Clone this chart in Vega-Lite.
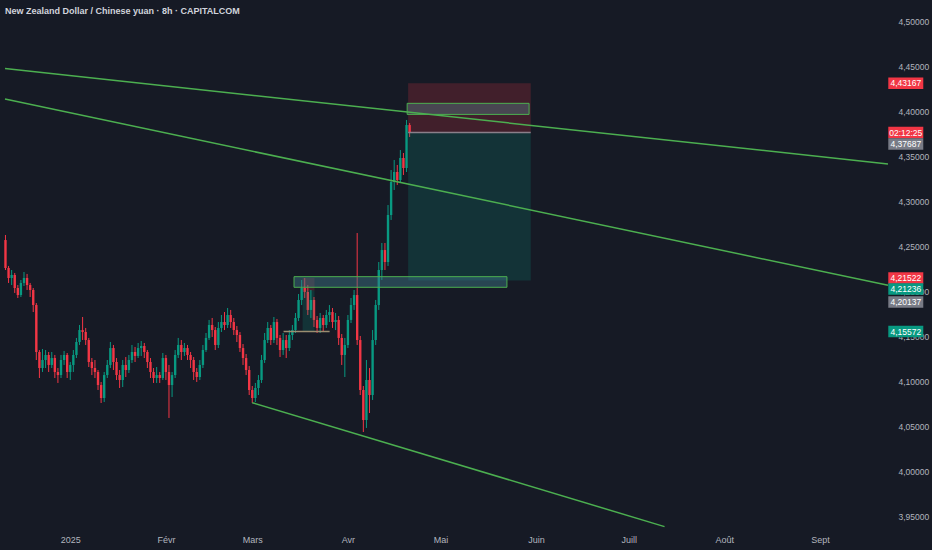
{
  "$schema": "https://vega.github.io/schema/vega-lite/v6.json",
  "width": 893,
  "height": 530,
  "autosize": {"type": "none"},
  "padding": {"left": 0, "top": 0, "right": 39, "bottom": 20},
  "background": "#161a25",
  "config": {
    "view": {"stroke": null},
    "font": "Liberation Sans"
  },
  "title": {
    "text": "New Zealand Dollar / Chinese yuan · 8h · CAPITALCOM",
    "anchor": "start",
    "frame": "group",
    "offset": -16,
    "dx": 5,
    "fontSize": 9,
    "fontWeight": "bold",
    "color": "#d1d4dc",
    "font": "Liberation Sans"
  },
  "datasets": {
    "candles": [
      {"t":"2024-12-11","o":4.2574,"h":4.2630,"l":4.2241,"c":4.2263},
      {"t":"2024-12-12","o":4.2263,"h":4.2286,"l":4.2097,"c":4.2152},
      {"t":"2024-12-13","o":4.2152,"h":4.2241,"l":4.2074,"c":4.2186},
      {"t":"2024-12-14","o":4.2186,"h":4.2208,"l":4.1986,"c":4.2041},
      {"t":"2024-12-15","o":4.2041,"h":4.2074,"l":4.1930,"c":4.1963},
      {"t":"2024-12-16","o":4.1963,"h":4.2130,"l":4.1941,"c":4.2097},
      {"t":"2024-12-17","o":4.2097,"h":4.2219,"l":4.2063,"c":4.2152},
      {"t":"2024-12-18","o":4.2152,"h":4.2197,"l":4.2019,"c":4.2074},
      {"t":"2024-12-19","o":4.2074,"h":4.2097,"l":4.1941,"c":4.2019},
      {"t":"2024-12-20","o":4.2019,"h":4.2041,"l":4.1774,"c":4.1852},
      {"t":"2024-12-21","o":4.1852,"h":4.1874,"l":4.1241,"c":4.1330},
      {"t":"2024-12-22","o":4.1330,"h":4.1352,"l":4.1041,"c":4.1152},
      {"t":"2024-12-23","o":4.1152,"h":4.1363,"l":4.1108,"c":4.1241},
      {"t":"2024-12-24","o":4.1241,"h":4.1352,"l":4.1152,"c":4.1297},
      {"t":"2024-12-25","o":4.1297,"h":4.1330,"l":4.1108,"c":4.1186},
      {"t":"2024-12-26","o":4.1186,"h":4.1330,"l":4.1152,"c":4.1263},
      {"t":"2024-12-27","o":4.1263,"h":4.1297,"l":4.1041,"c":4.1108},
      {"t":"2024-12-28","o":4.1108,"h":4.1152,"l":4.0986,"c":4.1074},
      {"t":"2024-12-29","o":4.1074,"h":4.1297,"l":4.1041,"c":4.1241},
      {"t":"2024-12-30","o":4.1241,"h":4.1341,"l":4.1186,"c":4.1297},
      {"t":"2024-12-31","o":4.1297,"h":4.1319,"l":4.1041,"c":4.1108},
      {"t":"2025-01-01","o":4.1108,"h":4.1219,"l":4.1019,"c":4.1186},
      {"t":"2025-01-02","o":4.1186,"h":4.1352,"l":4.1108,"c":4.1297},
      {"t":"2025-01-03","o":4.1297,"h":4.1486,"l":4.1263,"c":4.1441},
      {"t":"2025-01-04","o":4.1441,"h":4.1630,"l":4.1408,"c":4.1574},
      {"t":"2025-01-05","o":4.1574,"h":4.1719,"l":4.1463,"c":4.1552},
      {"t":"2025-01-06","o":4.1552,"h":4.1597,"l":4.1408,"c":4.1463},
      {"t":"2025-01-07","o":4.1463,"h":4.1486,"l":4.1163,"c":4.1219},
      {"t":"2025-01-08","o":4.1219,"h":4.1263,"l":4.1074,"c":4.1152},
      {"t":"2025-01-09","o":4.1152,"h":4.1241,"l":4.1041,"c":4.1108},
      {"t":"2025-01-10","o":4.1108,"h":4.1130,"l":4.0908,"c":4.0963},
      {"t":"2025-01-11","o":4.0963,"h":4.0997,"l":4.0763,"c":4.0819},
      {"t":"2025-01-12","o":4.0819,"h":4.1108,"l":4.0774,"c":4.1074},
      {"t":"2025-01-13","o":4.1074,"h":4.1241,"l":4.1041,"c":4.1186},
      {"t":"2025-01-14","o":4.1186,"h":4.1441,"l":4.1152,"c":4.1374},
      {"t":"2025-01-15","o":4.1374,"h":4.1408,"l":4.1130,"c":4.1219},
      {"t":"2025-01-16","o":4.1219,"h":4.1263,"l":4.1019,"c":4.1074},
      {"t":"2025-01-17","o":4.1074,"h":4.1130,"l":4.0930,"c":4.1019},
      {"t":"2025-01-18","o":4.1019,"h":4.1241,"l":4.0941,"c":4.1186},
      {"t":"2025-01-19","o":4.1186,"h":4.1274,"l":4.1052,"c":4.1130},
      {"t":"2025-01-20","o":4.1130,"h":4.1297,"l":4.1097,"c":4.1241},
      {"t":"2025-01-21","o":4.1241,"h":4.1408,"l":4.1208,"c":4.1330},
      {"t":"2025-01-22","o":4.1330,"h":4.1386,"l":4.1219,"c":4.1286},
      {"t":"2025-01-23","o":4.1286,"h":4.1430,"l":4.1263,"c":4.1374},
      {"t":"2025-01-24","o":4.1374,"h":4.1452,"l":4.1286,"c":4.1397},
      {"t":"2025-01-25","o":4.1397,"h":4.1430,"l":4.1263,"c":4.1330},
      {"t":"2025-01-26","o":4.1330,"h":4.1352,"l":4.1152,"c":4.1219},
      {"t":"2025-01-27","o":4.1219,"h":4.1263,"l":4.1041,"c":4.1108},
      {"t":"2025-01-28","o":4.1108,"h":4.1152,"l":4.0986,"c":4.1041},
      {"t":"2025-01-29","o":4.1041,"h":4.1163,"l":4.0986,"c":4.1074},
      {"t":"2025-01-30","o":4.1074,"h":4.1108,"l":4.0986,"c":4.1041},
      {"t":"2025-01-31","o":4.1041,"h":4.1319,"l":4.1019,"c":4.1263},
      {"t":"2025-02-01","o":4.1263,"h":4.1297,"l":4.1019,"c":4.1108},
      {"t":"2025-02-02","o":4.1108,"h":4.1186,"l":4.0597,"c":4.0963},
      {"t":"2025-02-03","o":4.0963,"h":4.1108,"l":4.0830,"c":4.1074},
      {"t":"2025-02-04","o":4.1074,"h":4.1352,"l":4.1041,"c":4.1297},
      {"t":"2025-02-05","o":4.1297,"h":4.1486,"l":4.1263,"c":4.1408},
      {"t":"2025-02-06","o":4.1408,"h":4.1463,"l":4.1241,"c":4.1330},
      {"t":"2025-02-07","o":4.1330,"h":4.1430,"l":4.1286,"c":4.1374},
      {"t":"2025-02-08","o":4.1374,"h":4.1408,"l":4.1241,"c":4.1297},
      {"t":"2025-02-09","o":4.1297,"h":4.1330,"l":4.1152,"c":4.1241},
      {"t":"2025-02-10","o":4.1241,"h":4.1274,"l":4.1019,"c":4.1108},
      {"t":"2025-02-11","o":4.1108,"h":4.1152,"l":4.0997,"c":4.1052},
      {"t":"2025-02-12","o":4.1052,"h":4.1241,"l":4.1019,"c":4.1186},
      {"t":"2025-02-13","o":4.1186,"h":4.1408,"l":4.1152,"c":4.1352},
      {"t":"2025-02-14","o":4.1352,"h":4.1541,"l":4.1330,"c":4.1486},
      {"t":"2025-02-15","o":4.1486,"h":4.1686,"l":4.1463,"c":4.1630},
      {"t":"2025-02-16","o":4.1630,"h":4.1708,"l":4.1497,"c":4.1574},
      {"t":"2025-02-17","o":4.1574,"h":4.1608,"l":4.1352,"c":4.1408},
      {"t":"2025-02-18","o":4.1408,"h":4.1663,"l":4.1374,"c":4.1597},
      {"t":"2025-02-19","o":4.1597,"h":4.1741,"l":4.1552,"c":4.1663},
      {"t":"2025-02-20","o":4.1663,"h":4.1774,"l":4.1574,"c":4.1630},
      {"t":"2025-02-21","o":4.1630,"h":4.1819,"l":4.1597,"c":4.1741},
      {"t":"2025-02-22","o":4.1741,"h":4.1797,"l":4.1597,"c":4.1663},
      {"t":"2025-02-23","o":4.1663,"h":4.1708,"l":4.1519,"c":4.1574},
      {"t":"2025-02-24","o":4.1574,"h":4.1619,"l":4.1441,"c":4.1519},
      {"t":"2025-02-25","o":4.1519,"h":4.1552,"l":4.1330,"c":4.1374},
      {"t":"2025-02-26","o":4.1374,"h":4.1419,"l":4.1186,"c":4.1263},
      {"t":"2025-02-27","o":4.1263,"h":4.1308,"l":4.1074,"c":4.1130},
      {"t":"2025-02-28","o":4.1130,"h":4.1174,"l":4.0852,"c":4.0908},
      {"t":"2025-03-01","o":4.0908,"h":4.0952,"l":4.0763,"c":4.0819},
      {"t":"2025-03-02","o":4.0819,"h":4.0986,"l":4.0774,"c":4.0930},
      {"t":"2025-03-03","o":4.0930,"h":4.1074,"l":4.0852,"c":4.1019},
      {"t":"2025-03-04","o":4.1019,"h":4.1297,"l":4.0986,"c":4.1241},
      {"t":"2025-03-05","o":4.1241,"h":4.1541,"l":4.1208,"c":4.1463},
      {"t":"2025-03-06","o":4.1463,"h":4.1663,"l":4.1430,"c":4.1597},
      {"t":"2025-03-07","o":4.1597,"h":4.1630,"l":4.1408,"c":4.1463},
      {"t":"2025-03-08","o":4.1463,"h":4.1719,"l":4.1430,"c":4.1663},
      {"t":"2025-03-09","o":4.1663,"h":4.1697,"l":4.1408,"c":4.1486},
      {"t":"2025-03-10","o":4.1486,"h":4.1519,"l":4.1274,"c":4.1352},
      {"t":"2025-03-11","o":4.1352,"h":4.1541,"l":4.1297,"c":4.1463},
      {"t":"2025-03-12","o":4.1463,"h":4.1519,"l":4.1263,"c":4.1374},
      {"t":"2025-03-13","o":4.1374,"h":4.1574,"l":4.1341,"c":4.1519},
      {"t":"2025-03-14","o":4.1519,"h":4.1630,"l":4.1463,"c":4.1574},
      {"t":"2025-03-15","o":4.1574,"h":4.1763,"l":4.1541,"c":4.1708},
      {"t":"2025-03-16","o":4.1708,"h":4.1974,"l":4.1674,"c":4.1908},
      {"t":"2025-03-17","o":4.1908,"h":4.2130,"l":4.1852,"c":4.2041},
      {"t":"2025-03-18","o":4.2041,"h":4.2152,"l":4.1930,"c":4.1997},
      {"t":"2025-03-19","o":4.1997,"h":4.2074,"l":4.1741,"c":4.1797},
      {"t":"2025-03-20","o":4.1797,"h":4.2019,"l":4.1708,"c":4.1908},
      {"t":"2025-03-21","o":4.1908,"h":4.1941,"l":4.1608,"c":4.1686},
      {"t":"2025-03-22","o":4.1686,"h":4.1730,"l":4.1541,"c":4.1597},
      {"t":"2025-03-23","o":4.1597,"h":4.1763,"l":4.1541,"c":4.1708},
      {"t":"2025-03-24","o":4.1708,"h":4.1741,"l":4.1552,"c":4.1630},
      {"t":"2025-03-25","o":4.1630,"h":4.1797,"l":4.1597,"c":4.1741},
      {"t":"2025-03-26","o":4.1741,"h":4.1852,"l":4.1663,"c":4.1774},
      {"t":"2025-03-27","o":4.1774,"h":4.1819,"l":4.1597,"c":4.1663},
      {"t":"2025-03-28","o":4.1663,"h":4.1763,"l":4.1574,"c":4.1686},
      {"t":"2025-03-29","o":4.1686,"h":4.1730,"l":4.1408,"c":4.1486},
      {"t":"2025-03-30","o":4.1486,"h":4.1530,"l":4.1186,"c":4.1297},
      {"t":"2025-03-31","o":4.1297,"h":4.1486,"l":4.1052,"c":4.1408},
      {"t":"2025-04-01","o":4.1408,"h":4.1741,"l":4.1374,"c":4.1686},
      {"t":"2025-04-02","o":4.1686,"h":4.1930,"l":4.1652,"c":4.1852},
      {"t":"2025-04-03","o":4.1852,"h":4.2019,"l":4.1797,"c":4.1963},
      {"t":"2025-04-04","o":4.1963,"h":4.2652,"l":4.1408,"c":4.1463},
      {"t":"2025-04-05","o":4.1463,"h":4.1508,"l":4.0852,"c":4.0908},
      {"t":"2025-04-06","o":4.0908,"h":4.0952,"l":4.0441,"c":4.0574},
      {"t":"2025-04-07","o":4.0574,"h":4.1241,"l":4.0486,"c":4.1019},
      {"t":"2025-04-08","o":4.1019,"h":4.1152,"l":4.0652,"c":4.0852},
      {"t":"2025-04-09","o":4.0852,"h":4.1574,"l":4.0797,"c":4.1463},
      {"t":"2025-04-10","o":4.1463,"h":4.1908,"l":4.1408,"c":4.1852},
      {"t":"2025-04-11","o":4.1852,"h":4.2330,"l":4.1797,"c":4.2241},
      {"t":"2025-04-12","o":4.2241,"h":4.2541,"l":4.2130,"c":4.2463},
      {"t":"2025-04-13","o":4.2463,"h":4.2541,"l":4.2241,"c":4.2330},
      {"t":"2025-04-14","o":4.2330,"h":4.2963,"l":4.2286,"c":4.2852},
      {"t":"2025-04-15","o":4.2852,"h":4.3352,"l":4.2797,"c":4.3219},
      {"t":"2025-04-16","o":4.3219,"h":4.3463,"l":4.3130,"c":4.3330},
      {"t":"2025-04-17","o":4.3330,"h":4.3408,"l":4.3186,"c":4.3241},
      {"t":"2025-04-18","o":4.3241,"h":4.3574,"l":4.3208,"c":4.3486},
      {"t":"2025-04-19","o":4.3486,"h":4.3541,"l":4.3297,"c":4.3374},
      {"t":"2025-04-20","o":4.3374,"h":4.3908,"l":4.3330,"c":4.3852},
      {"t":"2025-04-21","o":4.3852,"h":4.3874,"l":4.3719,"c":4.3769}
    ],
    "zones": [
      {"t1":"2025-04-20T12:29:00Z","t2":"2025-05-30T06:14:00Z","p1":4.43167,"p2":4.37687,"kind":"stop"},
      {"t1":"2025-04-20T12:29:00Z","t2":"2025-05-30T06:14:00Z","p1":4.37687,"p2":4.21236,"kind":"target"},
      {"t1":"2025-03-17T07:40:00Z","t2":"2025-03-21T04:00:00Z","p1":4.21522,"p2":4.20137,"kind":"stop"},
      {"t1":"2025-03-17T07:40:00Z","t2":"2025-03-21T04:00:00Z","p1":4.20137,"p2":4.15572,"kind":"target"},
      {"t1":"2025-04-20T04:48:00Z","t2":"2025-05-29T17:14:00Z","p1":4.4093,"p2":4.3970,"kind":"level"},
      {"t1":"2025-03-14T12:46:00Z","t2":"2025-05-22T13:00:00Z","p1":4.2167,"p2":4.2049,"kind":"box"}
    ],
    "lines": [
      {"t1":"2024-12-10T20:18:00Z","p1":4.4480,"t2":"2025-09-23T01:32:00Z","p2":4.3419,"kind":"trend"},
      {"t1":"2024-12-10T20:18:00Z","p1":4.4140,"t2":"2025-09-23T01:32:00Z","p2":4.2071,"kind":"trend"},
      {"t1":"2025-02-28T23:18:00Z","p1":4.0767,"t2":"2025-07-12T15:07:00Z","p2":3.9390,"kind":"trend"},
      {"t1":"2025-04-20T12:29:00Z","p1":4.37687,"t2":"2025-05-30T06:14:00Z","p2":4.37687,"kind":"entry"},
      {"t1":"2025-03-11T03:20:00Z","p1":4.15572,"t2":"2025-03-26T01:41:00Z","p2":4.15572,"kind":"target"}
    ],
    "labels": [
      {"p":4.43167,"label":"4,43167","kind":"stop"},
      {"p":4.37687,"label":"02:12:25","kind":"timer"},
      {"p":4.37687,"label":"4,37687","kind":"entry"},
      {"p":4.21522,"label":"4,21522","kind":"stop"},
      {"p":4.21236,"label":"4,21236","kind":"target"},
      {"p":4.20137,"label":"4,20137","kind":"entry"},
      {"p":4.15572,"label":"4,15572","kind":"target"}
    ]
  },
  "layer": [
    {
      "data": {"name": "candles"},
      "mark": {"type": "rule", "strokeWidth": 1, "clip": true},
      "encoding": {
        "x": {
          "field": "t", "type": "temporal", "title": null,
          "scale": {"type": "utc", "domain": [{"year":2024,"month":12,"date":10,"hours":20,"minutes":18,"utc":true},{"year":2025,"month":9,"date":23,"hours":1,"minutes":32,"utc":true}]},
          "axis": {
            "orient": "bottom", "domain": false, "ticks": false, "grid": false,
            "labelPadding": 5, "labelColor": "#b2b5be", "labelFontSize": 9,
            "labelFont": "Liberation Sans",
            "labelAlign": "center", "labelBaseline": "top", "labelFlush": false, "labelOverlap": false,
            "values": [
              {"year":2025,"month":1,"date":1,"utc":true},
              {"year":2025,"month":2,"date":1,"utc":true},
              {"year":2025,"month":3,"date":1,"utc":true},
              {"year":2025,"month":4,"date":1,"utc":true},
              {"year":2025,"month":5,"date":1,"utc":true},
              {"year":2025,"month":6,"date":1,"utc":true},
              {"year":2025,"month":7,"date":1,"utc":true},
              {"year":2025,"month":8,"date":1,"utc":true},
              {"year":2025,"month":9,"date":1,"utc":true}
            ],
            "labelExpr": "['2025','Févr','Mars','Avr','Mai','Juin','Juill','Août','Sept'][utcmonth(datum.value)]"
          }
        },
        "y": {
          "field": "l", "type": "quantitative", "title": null,
          "scale": {"domain": [3.93522, 4.52411], "zero": false, "nice": false},
          "axis": {
            "orient": "right", "domain": false, "ticks": false, "grid": false,
            "labelPadding": 5, "labelColor": "#b2b5be", "labelFontSize": 8.5,
            "labelFont": "Liberation Sans",
            "labelAlign": "left", "labelBaseline": "middle", "labelOverlap": false, "labelBound": false,
            "values": [3.95, 4.0, 4.05, 4.1, 4.15, 4.2, 4.25, 4.3, 4.35, 4.4, 4.45, 4.5],
            "labelExpr": "replace(format(datum.value, '.5f'), '.', ',')"
          }
        },
        "y2": {"field": "h"},
        "color": {"condition": {"test": "datum.c >= datum.o", "value": "#089981"}, "value": "#f23645"}
      }
    },
    {
      "data": {"name": "candles"},
      "mark": {"type": "bar", "size": 2.4, "clip": true},
      "encoding": {
        "x": {"field": "t", "type": "temporal", "title": null},
        "y": {"field": "o", "type": "quantitative", "title": null},
        "y2": {"field": "c"},
        "color": {"condition": {"test": "datum.c >= datum.o", "value": "#089981"}, "value": "#f23645"}
      }
    },
    {
      "data": {"name": "zones"},
      "transform": [{"filter": {"field": "kind", "oneOf": ["stop", "target"]}}],
      "mark": {"type": "rect", "fillOpacity": 0.2, "clip": true},
      "encoding": {
        "x": {"field": "t1", "type": "temporal", "title": null},
        "x2": {"field": "t2"},
        "y": {"field": "p1", "type": "quantitative", "title": null},
        "y2": {"field": "p2"},
        "fill": {"field": "kind", "type": "nominal", "scale": {"domain": ["stop", "target", "level", "box", "timer", "entry"], "range": ["#f23645", "#089981", "#4a4d58", "#3d7a8a", "#f23645", "#787b86"]}, "legend": null}
      }
    },
    {
      "data": {"name": "zones"},
      "transform": [{"filter": {"field": "kind", "oneOf": ["level", "box"]}}],
      "mark": {"type": "rect", "stroke": "#4caf50", "strokeWidth": 1, "clip": true},
      "encoding": {
        "x": {"field": "t1", "type": "temporal", "title": null},
        "x2": {"field": "t2"},
        "y": {"field": "p1", "type": "quantitative", "title": null},
        "y2": {"field": "p2"},
        "fill": {"field": "kind", "type": "nominal", "scale": {"domain": ["stop", "target", "level", "box", "timer", "entry"], "range": ["#f23645", "#089981", "#4a4d58", "#3d7a8a", "#f23645", "#787b86"]}, "legend": null},
        "fillOpacity": {"field": "kind", "type": "nominal", "scale": {"domain": ["level", "box"], "range": [0.85, 0.45]}, "legend": null}
      }
    },
    {
      "data": {"name": "lines"},
      "mark": {"type": "rule", "strokeWidth": 1.5, "clip": true},
      "encoding": {
        "x": {"field": "t1", "type": "temporal", "title": null},
        "x2": {"field": "t2"},
        "y": {"field": "p1", "type": "quantitative", "title": null},
        "y2": {"field": "p2"},
        "stroke": {"field": "kind", "type": "nominal", "scale": {"domain": ["trend", "entry", "target"], "range": ["#4caf50", "#8a7f8a", "#9a8d70"]}, "legend": null}
      }
    },
    {
      "data": {"name": "labels"},
      "transform": [{"filter": {"field": "label", "oneOf": ["4,43167", "02:12:25", "4,21522", "4,15572"]}}],
      "encoding": {
        "x": {"datum": {"year":2025,"month":9,"date":28,"hours":19,"minutes":55,"utc":true}, "type": "temporal"},
        "y": {"field": "p", "type": "quantitative", "title": null}
      },
      "layer": [
        {
          "mark": {"type": "point", "shape": "M-1,-0.33H1V0.33H-1Z", "size": 1225, "filled": true, "opacity": 1, "strokeWidth": 0},
          "encoding": {"fill": {"field": "kind", "type": "nominal", "scale": {"domain": ["stop", "target", "level", "box", "timer", "entry"], "range": ["#f23645", "#089981", "#4a4d58", "#3d7a8a", "#f23645", "#787b86"]}, "legend": null}}
        },
        {
          "mark": {"type": "text", "color": "#ffffff", "fontSize": 8.5, "align": "center", "baseline": "middle", "font": "Liberation Sans"},
          "encoding": {"text": {"field": "label"}}
        }
      ]
    },
    {
      "data": {"name": "labels"},
      "transform": [{"filter": {"field": "label", "oneOf": ["4,37687", "4,20137"]}}],
      "encoding": {
        "x": {"datum": {"year":2025,"month":9,"date":28,"hours":19,"minutes":55,"utc":true}, "type": "temporal"},
        "y": {"field": "p", "type": "quantitative", "title": null}
      },
      "layer": [
        {
          "mark": {"type": "point", "shape": "M-1,-0.33H1V0.33H-1Z", "size": 1225, "filled": true, "opacity": 1, "strokeWidth": 0, "yOffset": 11.5},
          "encoding": {"fill": {"field": "kind", "type": "nominal", "scale": {"domain": ["stop", "target", "level", "box", "timer", "entry"], "range": ["#f23645", "#089981", "#4a4d58", "#3d7a8a", "#f23645", "#787b86"]}, "legend": null}}
        },
        {
          "mark": {"type": "text", "color": "#ffffff", "fontSize": 8.5, "align": "center", "baseline": "middle", "yOffset": 11.5, "font": "Liberation Sans"},
          "encoding": {"text": {"field": "label"}}
        }
      ]
    },
    {
      "data": {"name": "labels"},
      "transform": [{"filter": {"field": "label", "oneOf": ["4,21236"]}}],
      "encoding": {
        "x": {"datum": {"year":2025,"month":9,"date":28,"hours":19,"minutes":55,"utc":true}, "type": "temporal"},
        "y": {"field": "p", "type": "quantitative", "title": null}
      },
      "layer": [
        {
          "mark": {"type": "point", "shape": "M-1,-0.33H1V0.33H-1Z", "size": 1225, "filled": true, "opacity": 1, "strokeWidth": 0, "yOffset": 8.5},
          "encoding": {"fill": {"field": "kind", "type": "nominal", "scale": {"domain": ["stop", "target", "level", "box", "timer", "entry"], "range": ["#f23645", "#089981", "#4a4d58", "#3d7a8a", "#f23645", "#787b86"]}, "legend": null}}
        },
        {
          "mark": {"type": "text", "color": "#ffffff", "fontSize": 8.5, "align": "center", "baseline": "middle", "yOffset": 8.5, "font": "Liberation Sans"},
          "encoding": {"text": {"field": "label"}}
        }
      ]
    }
  ]
}
